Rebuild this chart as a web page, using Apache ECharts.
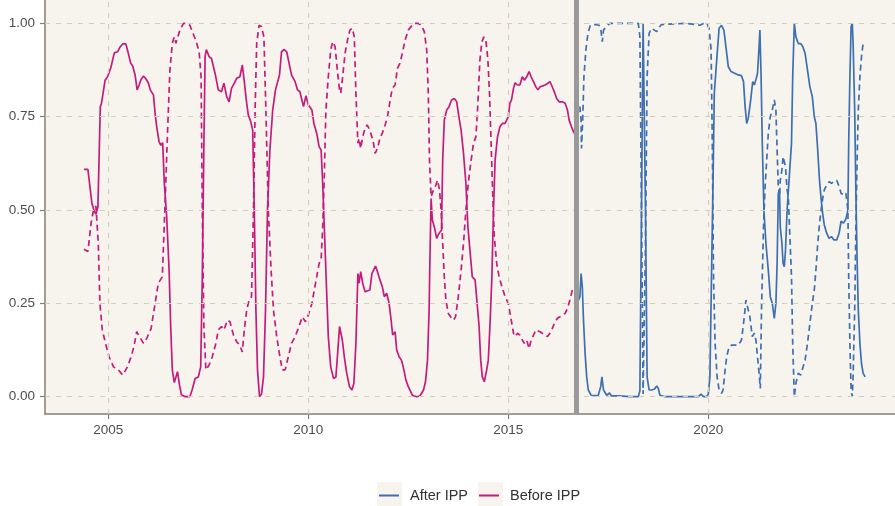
<!DOCTYPE html>
<html>
<head>
<meta charset="utf-8">
<script src="https://cdn.jsdelivr.net/npm/echarts@6/dist/echarts.min.js"></script>
<style>
  html, body { margin: 0; padding: 0; background: #ffffff; }
  #chart { width: 895px; height: 506px; }
</style>
</head>
<body>
<div id="chart"></div>
<script>
// Regime probabilities, [decimal year, probability]
const beforeShare = [
  [2004.39,0.609],[2004.49,0.609],[2004.59,0.518],[2004.64,0.50],[2004.69,0.489],[2004.74,0.509],
  [2004.80,0.777],[2004.83,0.786],[2004.92,0.848],[2004.98,0.857],[2005.06,0.88],[2005.15,0.921],
  [2005.23,0.924],[2005.29,0.936],[2005.36,0.945],[2005.44,0.945],[2005.50,0.92],[2005.56,0.893],
  [2005.61,0.886],[2005.67,0.862],[2005.72,0.822],[2005.77,0.835],[2005.82,0.85],[2005.88,0.859],
  [2005.93,0.853],[2006.00,0.841],[2006.05,0.822],[2006.13,0.808],[2006.17,0.759],[2006.21,0.723],
  [2006.27,0.683],[2006.31,0.674],[2006.36,0.68],[2006.40,0.572],[2006.46,0.482],[2006.52,0.339],
  [2006.56,0.188],[2006.60,0.072],[2006.65,0.038],[2006.68,0.04],[2006.73,0.067],[2006.78,0.031],
  [2006.83,0.005],[2006.92,0.0],[2007.04,0.0],[2007.10,0.02],[2007.17,0.049],[2007.25,0.053],
  [2007.31,0.08],[2007.35,0.321],[2007.39,0.679],[2007.42,0.911],[2007.45,0.93],[2007.52,0.911],
  [2007.58,0.906],[2007.67,0.866],[2007.75,0.822],[2007.83,0.817],[2007.89,0.84],[2007.96,0.804],
  [2008.02,0.79],[2008.08,0.826],[2008.15,0.84],[2008.21,0.853],[2008.29,0.857],[2008.35,0.889],
  [2008.40,0.844],[2008.46,0.786],[2008.50,0.755],[2008.56,0.737],[2008.61,0.714],[2008.65,0.5],
  [2008.69,0.232],[2008.73,0.072],[2008.78,0.0],[2008.83,0.007],[2008.88,0.053],[2008.93,0.232],
  [2008.98,0.5],[2009.04,0.661],[2009.11,0.768],[2009.18,0.822],[2009.28,0.862],[2009.33,0.924],
  [2009.40,0.93],[2009.46,0.924],[2009.52,0.893],[2009.58,0.862],[2009.67,0.844],[2009.73,0.822],
  [2009.79,0.817],[2009.88,0.777],[2009.94,0.806],[2010.00,0.782],[2010.09,0.768],[2010.14,0.732],
  [2010.21,0.706],[2010.27,0.67],[2010.32,0.661],[2010.36,0.572],[2010.40,0.455],[2010.46,0.277],
  [2010.50,0.161],[2010.56,0.08],[2010.63,0.049],[2010.69,0.053],[2010.74,0.125],[2010.78,0.188],
  [2010.81,0.183],[2010.85,0.152],[2010.90,0.107],[2010.96,0.063],[2011.03,0.027],[2011.09,0.018],
  [2011.14,0.036],[2011.19,0.143],[2011.24,0.33],[2011.27,0.304],[2011.31,0.335],[2011.36,0.304],
  [2011.42,0.281],[2011.47,0.277],[2011.54,0.286],[2011.59,0.33],[2011.63,0.335],[2011.68,0.35],
  [2011.73,0.335],[2011.79,0.313],[2011.85,0.295],[2011.90,0.268],[2011.96,0.277],[2012.02,0.25],
  [2012.07,0.205],[2012.11,0.165],[2012.17,0.174],[2012.21,0.125],[2012.27,0.107],[2012.33,0.098],
  [2012.39,0.072],[2012.44,0.045],[2012.50,0.027],[2012.54,0.022],[2012.60,0.004],[2012.71,0.0],
  [2012.79,0.002],[2012.88,0.018],[2012.93,0.04],[2012.98,0.098],[2013.02,0.232],[2013.04,0.366],
  [2013.07,0.531],[2013.10,0.474],[2013.15,0.455],[2013.21,0.424],[2013.27,0.438],[2013.33,0.446],
  [2013.36,0.634],[2013.40,0.741],[2013.46,0.768],[2013.52,0.777],[2013.58,0.795],[2013.65,0.799],
  [2013.71,0.79],[2013.77,0.746],[2013.82,0.714],[2013.88,0.652],[2013.94,0.572],[2013.99,0.455],
  [2014.04,0.393],[2014.10,0.321],[2014.17,0.313],[2014.22,0.313],[2014.27,0.188],[2014.31,0.098],
  [2014.35,0.053],[2014.40,0.04],[2014.46,0.072],[2014.50,0.098],[2014.54,0.188],[2014.59,0.321],
  [2014.63,0.5],[2014.67,0.634],[2014.73,0.696],[2014.79,0.723],[2014.85,0.732],[2014.92,0.732],
  [2014.96,0.728],[2015.00,0.75],[2015.04,0.786],[2015.08,0.795],[2015.13,0.826],[2015.17,0.841],
  [2015.23,0.835],[2015.29,0.835],[2015.35,0.857],[2015.40,0.848],[2015.46,0.857],[2015.52,0.871],
  [2015.57,0.857],[2015.63,0.844],[2015.69,0.83],[2015.74,0.822],[2015.79,0.83],[2015.85,0.832],
  [2015.92,0.835],[2015.98,0.839],[2016.04,0.844],[2016.08,0.835],[2016.15,0.817],[2016.21,0.799],
  [2016.27,0.79],[2016.35,0.79],[2016.42,0.786],[2016.48,0.768],[2016.52,0.741],[2016.58,0.723],
  [2016.63,0.71],[2016.68,0.70]
];

const beforeOther = [
  [2004.39,0.395],[2004.49,0.389],[2004.57,0.465],[2004.63,0.50],[2004.69,0.511],[2004.75,0.411],
  [2004.79,0.25],[2004.85,0.179],[2004.93,0.143],[2005.02,0.107],[2005.13,0.08],[2005.25,0.072],
  [2005.36,0.058],[2005.41,0.058],[2005.48,0.08],[2005.57,0.107],[2005.64,0.134],[2005.71,0.174],
  [2005.78,0.161],[2005.88,0.143],[2005.96,0.156],[2006.07,0.183],[2006.17,0.25],[2006.25,0.304],
  [2006.35,0.321],[2006.42,0.518],[2006.48,0.706],[2006.54,0.875],[2006.60,0.947],[2006.65,0.964],
  [2006.69,0.947],[2006.79,0.982],[2006.88,1.0],[2006.96,1.0],[2007.04,0.995],[2007.10,0.978],
  [2007.19,0.954],[2007.27,0.924],[2007.32,0.857],[2007.35,0.5],[2007.39,0.188],[2007.44,0.072],
  [2007.52,0.085],[2007.60,0.107],[2007.69,0.143],[2007.75,0.179],[2007.83,0.188],[2007.89,0.179],
  [2007.98,0.205],[2008.04,0.201],[2008.13,0.165],[2008.21,0.147],[2008.29,0.138],[2008.35,0.12],
  [2008.40,0.179],[2008.46,0.232],[2008.52,0.259],[2008.58,0.268],[2008.63,0.5],[2008.67,0.768],
  [2008.71,0.947],[2008.77,0.995],[2008.83,0.991],[2008.89,0.964],[2008.94,0.768],[2009.00,0.5],
  [2009.07,0.339],[2009.13,0.232],[2009.21,0.161],[2009.29,0.107],[2009.35,0.072],[2009.42,0.072],
  [2009.50,0.107],[2009.58,0.143],[2009.67,0.161],[2009.75,0.183],[2009.85,0.214],[2009.93,0.201],
  [2010.00,0.219],[2010.09,0.25],[2010.15,0.286],[2010.21,0.321],[2010.27,0.357],[2010.32,0.366],
  [2010.36,0.455],[2010.40,0.589],[2010.44,0.768],[2010.50,0.857],[2010.56,0.929],[2010.61,0.951],
  [2010.67,0.938],[2010.73,0.871],[2010.78,0.822],[2010.81,0.813],[2010.85,0.848],[2010.92,0.92],
  [2010.98,0.955],[2011.04,0.982],[2011.10,0.987],[2011.15,0.964],[2011.19,0.813],[2011.24,0.679],
  [2011.27,0.692],[2011.31,0.665],[2011.36,0.696],[2011.42,0.719],[2011.47,0.728],[2011.54,0.714],
  [2011.59,0.696],[2011.63,0.679],[2011.67,0.652],[2011.73,0.665],[2011.79,0.692],[2011.85,0.706],
  [2011.92,0.728],[2011.98,0.75],[2012.04,0.79],[2012.10,0.826],[2012.17,0.835],[2012.23,0.88],
  [2012.29,0.893],[2012.35,0.92],[2012.42,0.955],[2012.50,0.982],[2012.63,1.0],[2012.75,1.0],
  [2012.83,0.995],[2012.90,0.978],[2012.96,0.929],[2013.00,0.813],[2013.03,0.634],[2013.07,0.536],
  [2013.13,0.554],[2013.19,0.567],[2013.23,0.58],[2013.28,0.554],[2013.32,0.5],[2013.36,0.411],
  [2013.40,0.321],[2013.44,0.259],[2013.50,0.223],[2013.56,0.214],[2013.63,0.205],[2013.68,0.214],
  [2013.75,0.268],[2013.82,0.339],[2013.88,0.411],[2013.94,0.5],[2014.00,0.572],[2014.06,0.625],
  [2014.13,0.679],[2014.19,0.696],[2014.24,0.786],[2014.29,0.902],[2014.34,0.951],[2014.39,0.964],
  [2014.44,0.955],[2014.49,0.902],[2014.53,0.813],[2014.57,0.679],[2014.61,0.545],[2014.65,0.429],
  [2014.71,0.357],[2014.77,0.321],[2014.84,0.295],[2014.92,0.268],[2015.00,0.25],[2015.06,0.214],
  [2015.13,0.17],[2015.17,0.161],[2015.23,0.17],[2015.29,0.165],[2015.35,0.152],[2015.40,0.143],
  [2015.46,0.152],[2015.52,0.129],[2015.57,0.152],[2015.63,0.165],[2015.69,0.179],[2015.74,0.183],
  [2015.79,0.174],[2015.85,0.17],[2015.92,0.165],[2015.98,0.161],[2016.04,0.17],[2016.10,0.183],
  [2016.17,0.201],[2016.23,0.21],[2016.29,0.214],[2016.35,0.219],[2016.42,0.223],[2016.48,0.237],
  [2016.54,0.259],[2016.60,0.286],[2016.66,0.295]
];

const afterShare = [
  [2016.72,0.25],[2016.79,0.268],[2016.82,0.33],[2016.85,0.295],[2016.88,0.205],[2016.92,0.116],
  [2016.96,0.053],[2017.00,0.018],[2017.07,0.004],[2017.17,0.003],[2017.25,0.004],[2017.31,0.027],
  [2017.34,0.053],[2017.38,0.018],[2017.46,0.004],[2017.53,0.01],[2017.58,0.002],[2017.75,0.002],
  [2018.04,0.0],[2018.25,0.0],[2018.29,0.016],[2018.33,0.5],[2018.37,1.0],[2018.40,1.0],
  [2018.43,0.5],[2018.47,0.053],[2018.52,0.018],[2018.58,0.018],[2018.65,0.02],[2018.71,0.029],
  [2018.75,0.022],[2018.79,0.004],[2018.92,0.0],[2019.42,0.0],[2019.75,0.0],[2019.82,0.007],
  [2019.88,0.0],[2019.96,0.0],[2020.00,0.007],[2020.04,0.053],[2020.08,0.321],[2020.12,0.589],
  [2020.15,0.813],[2020.21,0.902],[2020.27,0.987],[2020.33,0.995],[2020.39,0.982],[2020.44,0.938],
  [2020.50,0.884],[2020.57,0.871],[2020.67,0.866],[2020.75,0.862],[2020.83,0.86],[2020.88,0.844],
  [2020.92,0.777],[2020.96,0.732],[2021.00,0.746],[2021.06,0.795],[2021.11,0.844],[2021.15,0.835],
  [2021.20,0.853],[2021.23,0.866],[2021.27,0.938],[2021.29,0.982],[2021.32,0.857],[2021.35,0.679],
  [2021.39,0.5],[2021.44,0.411],[2021.50,0.339],[2021.55,0.268],[2021.60,0.25],[2021.65,0.21],
  [2021.69,0.25],[2021.72,0.357],[2021.75,0.545],[2021.78,0.554],[2021.80,0.455],[2021.84,0.411],
  [2021.87,0.357],[2021.90,0.348],[2021.93,0.393],[2021.97,0.5],[2022.00,0.55],[2022.03,0.554],
  [2022.08,0.679],[2022.11,0.857],[2022.15,1.0],[2022.19,0.964],[2022.25,0.946],[2022.31,0.946],
  [2022.36,0.938],[2022.42,0.92],[2022.48,0.875],[2022.54,0.83],[2022.60,0.804],[2022.65,0.75],
  [2022.69,0.732],[2022.73,0.67],[2022.78,0.58],[2022.82,0.53],[2022.86,0.49],[2022.90,0.46],
  [2022.96,0.438],[2023.02,0.424],[2023.08,0.429],[2023.14,0.42],[2023.21,0.42],[2023.27,0.438],
  [2023.32,0.47],[2023.38,0.465],[2023.44,0.476],[2023.49,0.5],[2023.51,0.679],[2023.54,0.857],
  [2023.57,0.991],[2023.60,1.0],[2023.62,0.946],[2023.66,0.768],[2023.69,0.545],[2023.72,0.366],
  [2023.75,0.232],[2023.79,0.143],[2023.83,0.089],[2023.87,0.063],[2023.92,0.053]
];

const afterOther = [
  [2016.72,0.75],[2016.79,0.777],[2016.82,0.741],[2016.83,0.665],[2016.86,0.741],[2016.89,0.857],
  [2016.94,0.929],[2016.99,0.973],[2017.05,0.995],[2017.17,0.997],[2017.27,0.995],[2017.32,0.978],
  [2017.35,0.951],[2017.38,0.982],[2017.46,0.993],[2017.54,1.0],[2018.04,1.0],[2018.25,1.0],
  [2018.29,0.964],[2018.33,0.5],[2018.37,0.007],[2018.40,0.007],[2018.43,0.411],[2018.47,0.857],
  [2018.52,0.973],[2018.58,0.987],[2018.71,0.978],[2018.75,0.987],[2018.83,0.997],[2019.42,1.0],
  [2019.71,0.997],[2019.79,0.995],[2019.88,1.0],[2019.96,1.0],[2020.02,0.987],[2020.07,0.929],
  [2020.10,0.679],[2020.13,0.321],[2020.17,0.143],[2020.22,0.053],[2020.27,0.018],[2020.33,0.009],
  [2020.37,0.018],[2020.42,0.072],[2020.46,0.107],[2020.52,0.134],[2020.58,0.138],[2020.67,0.138],
  [2020.75,0.138],[2020.83,0.152],[2020.90,0.214],[2020.94,0.259],[2020.98,0.259],[2021.04,0.214],
  [2021.10,0.161],[2021.15,0.17],[2021.19,0.152],[2021.23,0.107],[2021.27,0.063],[2021.30,0.022],
  [2021.33,0.232],[2021.38,0.455],[2021.42,0.563],[2021.46,0.634],[2021.50,0.706],[2021.55,0.75],
  [2021.60,0.768],[2021.65,0.795],[2021.69,0.768],[2021.72,0.661],[2021.75,0.563],[2021.78,0.536],
  [2021.80,0.58],[2021.84,0.607],[2021.87,0.643],[2021.90,0.643],[2021.93,0.616],[2021.97,0.554],
  [2022.00,0.536],[2022.03,0.455],[2022.08,0.321],[2022.11,0.143],[2022.15,0.0],[2022.19,0.036],
  [2022.25,0.063],[2022.31,0.058],[2022.36,0.076],[2022.42,0.098],[2022.48,0.143],[2022.54,0.196],
  [2022.60,0.25],[2022.65,0.286],[2022.69,0.339],[2022.73,0.402],[2022.78,0.464],[2022.82,0.5],
  [2022.86,0.531],[2022.90,0.554],[2022.96,0.567],[2023.02,0.576],[2023.08,0.572],[2023.14,0.576],
  [2023.21,0.58],[2023.27,0.563],[2023.32,0.545],[2023.38,0.54],[2023.44,0.545],[2023.49,0.5],
  [2023.51,0.321],[2023.54,0.143],[2023.57,0.018],[2023.60,0.0],[2023.62,0.054],[2023.66,0.232],
  [2023.69,0.455],[2023.72,0.634],[2023.75,0.768],[2023.79,0.857],[2023.83,0.911],[2023.87,0.946],
  [2023.92,0.951]
];

const yearTicks = [2005, 2010, 2015, 2020];
const probTicks = [0, 0.25, 0.5, 0.75, 1];
const breakYear = 2016.71;
const regimeNames = ['After IPP', 'Before IPP'];

const COLOR_BEFORE = '#C51B7D';
const COLOR_AFTER = '#3E6FB0';
const PANEL = '#F7F4EE';
const GRID_LINE = '#D5CEBA';
const AXIS_LINE = '#8A7E6E';
const LABEL = '#4D4D4D';
const FONT = '"Liberation Sans", Arial, sans-serif';

const chart = echarts.init(document.getElementById('chart'), null, { renderer: 'canvas' });

function lineSeries(name, data, color, dashed) {
  return {
    name: name,
    type: 'line',
    data: data,
    showSymbol: false,
    symbol: 'none',
    smooth: false,
    clip: true,
    animation: false,
    lineStyle: { color: color, width: 1.7, type: dashed ? [6, 4] : 'solid' },
    itemStyle: { color: color },
    z: 3
  };
}

// gridlines at the labelled ticks only
const gridMarks = probTicks.map(v => ({ yAxis: v })).concat(yearTicks.map(v => ({ xAxis: v })));

chart.setOption({
  backgroundColor: '#ffffff',
  animation: false,
  textStyle: { fontFamily: FONT },
  grid: {
    left: 45, right: 0, top: 0, bottom: 92,
    show: true, backgroundColor: PANEL, borderWidth: 0
  },
  xAxis: {
    type: 'value',
    min: 2003.4175,
    max: 2024.6675,
    axisLine: { show: true, onZero: false, lineStyle: { color: AXIS_LINE, width: 1.5 } },
    axisTick: { show: true, length: 5, customValues: yearTicks, lineStyle: { color: AXIS_LINE, width: 1.2 } },
    axisLabel: {
      customValues: yearTicks, margin: 9, color: LABEL, fontSize: 13.5, fontFamily: FONT,
      formatter: v => String(Math.round(v))
    },
    splitLine: { show: false }
  },
  yAxis: {
    type: 'value',
    min: -0.0463,
    max: 1.0627,
    axisLine: { show: true, onZero: false, lineStyle: { color: AXIS_LINE, width: 1.5 } },
    axisTick: { show: true, length: 5, customValues: probTicks, lineStyle: { color: AXIS_LINE, width: 1.2 } },
    axisLabel: {
      customValues: probTicks, margin: 10, color: LABEL, fontSize: 13.5, fontFamily: FONT,
      formatter: v => v.toFixed(2)
    },
    splitLine: { show: false }
  },
  legend: {
    data: regimeNames,
    left: 374,
    top: 483,
    icon: 'rect',
    itemWidth: 20,
    itemHeight: 2,
    itemGap: 11,
    textStyle: { color: '#333333', fontSize: 14.5, fontFamily: FONT, padding: [0, 0, 0, 6] }
  },
  graphic: [
    { type: 'rect', left: 377, top: 482, shape: { width: 25, height: 24 }, style: { fill: PANEL }, z: -1, silent: true },
    { type: 'rect', left: 478, top: 482, shape: { width: 25, height: 24 }, style: { fill: PANEL }, z: -1, silent: true }
  ],
  series: [
    {
      name: 'gridlines',
      type: 'line',
      data: [],
      z: 1,
      markLine: {
        silent: true,
        symbol: ['none', 'none'],
        label: { show: false },
        animation: false,
        lineStyle: { color: GRID_LINE, width: 1.2, type: [5, 6] },
        data: gridMarks
      }
    },
    lineSeries('Before IPP', beforeShare, COLOR_BEFORE, false),
    lineSeries('Before IPP', beforeOther, COLOR_BEFORE, true),
    lineSeries('After IPP', afterShare, COLOR_AFTER, false),
    lineSeries('After IPP', afterOther, COLOR_AFTER, true),
    {
      name: 'break',
      type: 'line',
      data: [],
      z: 5,
      markLine: {
        silent: true,
        symbol: ['none', 'none'],
        label: { show: false },
        animation: false,
        lineStyle: { color: '#999999', width: 5, type: 'solid' },
        data: [{ xAxis: breakYear }]
      }
    }
  ]
});
</script>
</body>
</html>
